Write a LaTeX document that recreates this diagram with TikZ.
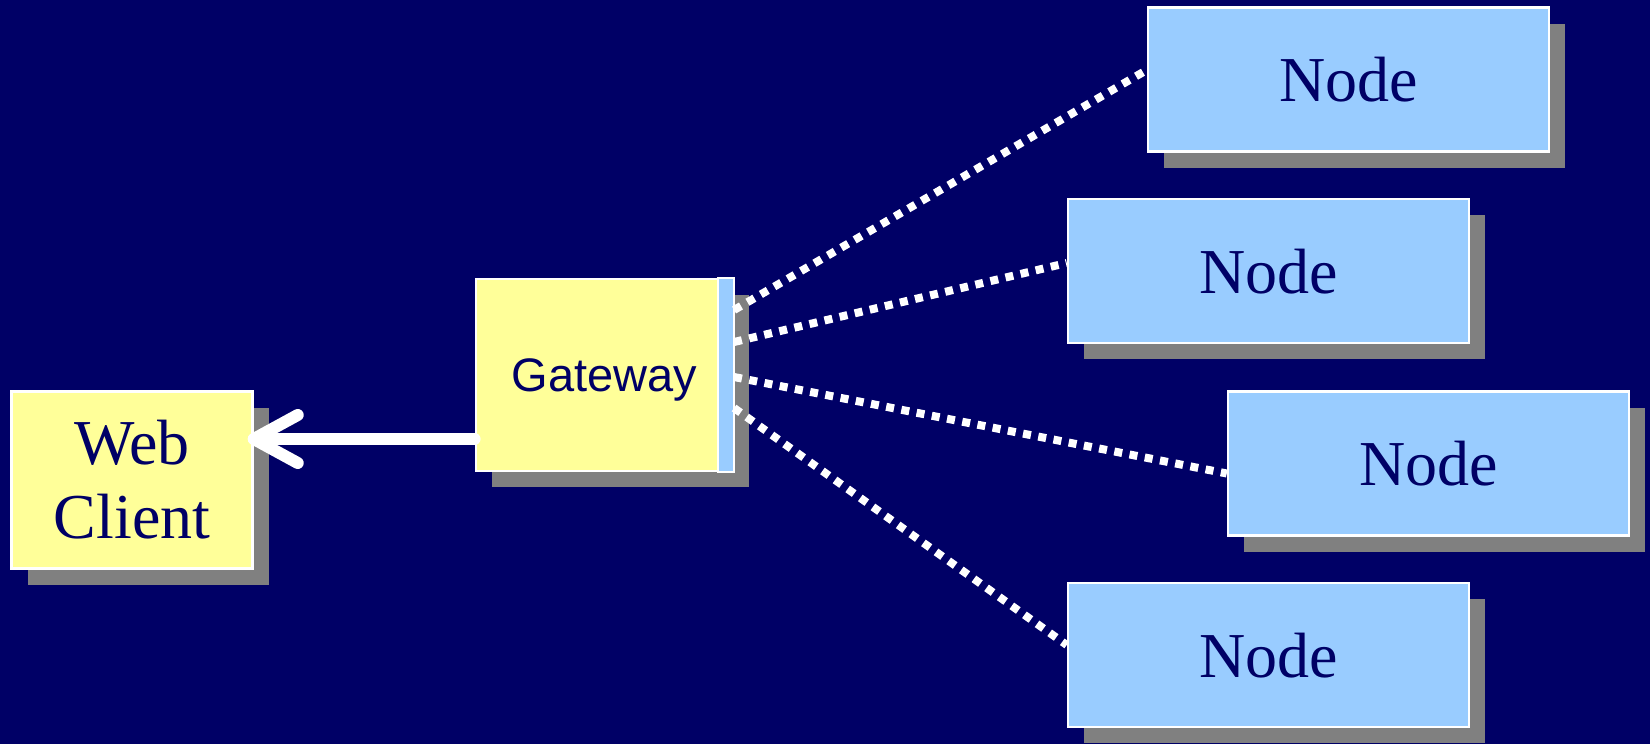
\documentclass[tikz,border=0pt]{standalone}
\usepackage{fontspec}
\setmainfont{Liberation Serif}
\newfontfamily\gwfont{Liberation Sans}
\usetikzlibrary{calc,shadows}

\definecolor{bgnavy}{HTML}{000066}
\definecolor{textnavy}{HTML}{000066}
\definecolor{paleyellow}{HTML}{FFFF99}
\definecolor{paleblue}{HTML}{99CCFF}
\definecolor{shadowgray}{HTML}{808080}

\tikzset{
  boxshadow/.style={drop shadow={shadow xshift=16pt, shadow yshift=-16pt,
      fill=shadowgray, opacity=1}},
  basebox/.style={rectangle, draw=white, line width=2.5pt, inner sep=0pt,
      text=textnavy, boxshadow},
  clientbox/.style={basebox, fill=paleyellow, minimum width=241pt,
      minimum height=177pt, align=center,
      font=\fontsize{64}{74}\selectfont},
  gatewaybox/.style={basebox, fill=paleyellow, minimum width=257pt,
      minimum height=192pt, text depth=0pt,
      font=\gwfont\fontsize{47}{53}\selectfont},
  portstrip/.style={fill=paleblue, draw=white, line width=2pt},
  serverbox/.style={basebox, fill=paleblue, minimum width=401pt,
      minimum height=144pt, text depth=0pt, text height=44pt,
      font=\fontsize{64}{74}\selectfont},
  linkdots/.style={draw=white, line width=8pt, dash pattern=on 8pt off 7.5pt},
  replyarrow/.style={draw=white, line width=12pt, line cap=round,
      line join=round}
}

\begin{document}
\begin{tikzpicture}[x=1pt, y=-1pt]
  % background and page size
  \fill[bgnavy] (0,0) rectangle (1650,744);
  \useasboundingbox (0,0) rectangle (1650,744);

  % boxes
  \node[clientbox]  (web) at (132,480)    {Web\\Client};
  \node[gatewaybox] (gw)  at (604.3,375)  {Gateway};
  \node[serverbox]  (n1)  at (1348.5,79.5) {Node};
  \node[serverbox]  (n2)  at (1268.5,271)  {Node};
  \node[serverbox]  (n3)  at (1428.5,463.5) {Node};
  \node[serverbox]  (n4)  at (1268.5,655)  {Node};

  % port strip on the right side of the gateway
  \draw[portstrip] ($(gw.north east)+(-16.5,0)$) rectangle (gw.south east);

  % dotted links from the gateway to the nodes
  \coordinate (p1) at ($(gw.east)+(0,-65)$);
  \coordinate (p2) at ($(gw.east)+(0,-33)$);
  \coordinate (p3) at ($(gw.east)+(0,2)$);
  \coordinate (p4) at ($(gw.east)+(0,33)$);
  \coordinate (q1) at ($(n1.west)+(0,-9.5)$);
  \coordinate (q2) at ($(n2.west)+(0,-8)$);
  \coordinate (q3) at ($(n3.west)+(0,10)$);
  \coordinate (q4) at ($(n4.west)+(0,-10)$);
  \draw[linkdots] (p1) -- (q1);
  \draw[linkdots] (p2) -- (q2);
  \draw[linkdots] (p3) -- (q3);
  \draw[linkdots] (p4) -- (q4);

  % reply from the gateway to the web client
  \coordinate (gwport) at ($(gw.west)+(0,64)$);
  \coordinate (webport) at (web.east |- gwport);
  \draw[replyarrow] (gwport) -- (webport);
  \draw[replyarrow] ($(webport)+(44,-24)$) -- (webport) -- ($(webport)+(44,24)$);
\end{tikzpicture}
\end{document}
